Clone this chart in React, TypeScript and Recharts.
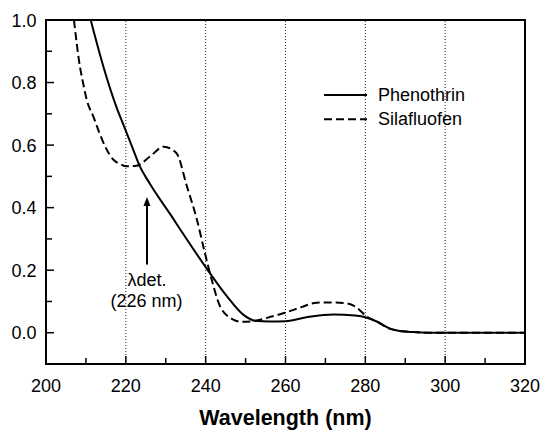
import React from 'react';
import { LineChart, Line, XAxis, YAxis, ReferenceLine, Legend } from 'recharts';

const FONT = '"Liberation Sans", Arial, Helvetica, sans-serif';

// Phenothrin (solid)
const phenothrinWl = [211.2, 214.4, 217.7, 219.4, 221.7, 223.4, 226.1, 231.5, 235.3, 241.1, 245.3, 249.4, 252.5, 256, 260, 266, 272, 277.4, 280.4, 283, 286.2, 288, 292, 296, 320];
const phenothrinAbs = [1.0, 0.85, 0.72, 0.665, 0.59, 0.535, 0.475, 0.372, 0.298, 0.19, 0.117, 0.058, 0.038, 0.036, 0.037, 0.051, 0.058, 0.055, 0.048, 0.035, 0.013, 0.007, 0.002, 0.0, 0.0];

// Silafluofen (dashed)
const silafluofenWl = [207, 208.5, 209.3, 210.2, 211.9, 213.5, 214.8, 216.9, 218.5, 220.2, 222.7, 226.1, 229.5, 232.7, 235.3, 237.8, 239.8, 241.5, 243.6, 246.9, 249, 252, 256, 259.9, 264, 267.8, 272, 275.4, 277.9, 280.4, 283, 286, 288, 292, 296, 320];
const silafluofenAbs = [1.0, 0.851, 0.798, 0.745, 0.69, 0.635, 0.596, 0.553, 0.54, 0.532, 0.534, 0.564, 0.595, 0.574, 0.468, 0.362, 0.255, 0.17, 0.085, 0.042, 0.035, 0.037, 0.05, 0.064, 0.082, 0.096, 0.097, 0.094, 0.08, 0.051, 0.035, 0.013, 0.007, 0.002, 0.0, 0.0];

const xDomain = [200, 320];
const yDomain = [-0.1, 1.0];
const xTicks = [200, 210, 220, 230, 240, 250, 260, 270, 280, 290, 300, 310, 320];
const yTicks = [0, 0.1, 0.2, 0.3, 0.4, 0.5, 0.6, 0.7, 0.8, 0.9, 1.0];
const gridX = [220, 240, 260, 280, 300];

const seriesNames = ['Phenothrin', 'Silafluofen'];
const seriesDash = ['', '8 4'];

const annotationX = 225.3;
const annotationY = [0.218, 0.434];
const annotationText = ['\u03BBdet.', '(226 nm)'];

const CHART_W = 542;
const CHART_H = 430;
const MARGIN = { top: 20, right: 17, bottom: 0, left: 0 };
const Y_AXIS_W = 46;
const X_AXIS_H = 66;

const phenothrinData = phenothrinWl.map((w, i) => ({ w, v: phenothrinAbs[i] }));
const silafluofenData = silafluofenWl.map((w, i) => ({ w, v: silafluofenAbs[i] }));

const XTick = (props: any) => {
  const { x, y, payload } = props;
  const v = payload.value;
  const major = Math.round(v) % 20 === 0;
  return (
    <g>
      <line x1={x} x2={x} y1={y} y2={y - (major ? 8 : 6)} stroke="#000" strokeWidth={1.5} />
      {major && (
        <text x={x} y={y + 28} textAnchor="middle" fontSize={18} fontFamily={FONT} fill="#000">
          {v}
        </text>
      )}
    </g>
  );
};

const YTick = (props: any) => {
  const { x, y, payload } = props;
  const v = payload.value;
  const major = Math.round(v * 10) % 2 === 0;
  return (
    <g>
      <line x1={x} x2={x + (major ? 8 : 6)} y1={y} y2={y} stroke="#000" strokeWidth={1.5} />
      {major && (
        <text x={x - 9.5} y={y + 6.5} textAnchor="end" fontSize={18} fontFamily={FONT} fill="#000">
          {v.toFixed(1)}
        </text>
      )}
    </g>
  );
};

const XLabel = (props: any) => {
  const vb = props.viewBox || {};
  return (
    <text x={vb.x + vb.width / 2} y={vb.y + 61} textAnchor="middle" fontSize={21.5} fontWeight="bold" fontFamily={FONT} fill="#000">
      Wavelength (nm)
    </text>
  );
};

const ArrowShape = (p: any) => {
  const x = p.x1;
  const top = Math.min(p.y1, p.y2);
  const bot = Math.max(p.y1, p.y2);
  return (
    <g>
      <line x1={x} x2={x} y1={bot} y2={top + 6} stroke="#000" strokeWidth={2} />
      <polygon points={`${x},${top} ${x - 3.5},${top + 9} ${x + 3.5},${top + 9}`} fill="#000" />
      <text x={x} y={bot + 21} textAnchor="middle" fontSize={18} fontFamily={FONT} fill="#000">
        {annotationText[0]}
      </text>
      <text x={x - 0.5} y={bot + 42} textAnchor="middle" fontSize={18} fontFamily={FONT} fill="#000">
        {annotationText[1]}
      </text>
    </g>
  );
};

const LegendContent = () => (
  <svg width={200} height={55} style={{ display: 'block', overflow: 'visible' }}>
    {seriesNames.map((name, i) => (
      <g key={name}>
        <line x1={4} x2={47} y1={15 + i * 24.3} y2={15 + i * 24.3} stroke="#000" strokeWidth={2} strokeDasharray={seriesDash[i] || undefined} />
        <text x={58} y={21 + i * 24.3} fontSize={18} fontFamily={FONT} fill="#000">
          {name}
        </text>
      </g>
    ))}
  </svg>
);

export default function App() {
  // plot-area frame, derived from the same margins / axis sizes given to the chart
  const plotLeft = MARGIN.left + Y_AXIS_W;
  const plotTop = MARGIN.top;
  const plotRight = CHART_W - MARGIN.right;
  const plotBottom = CHART_H - MARGIN.bottom - X_AXIS_H;
  return (
    <div style={{ position: 'absolute', left: 0, top: 0, width: CHART_W, height: CHART_H, background: '#fff' }}>
      <LineChart width={CHART_W} height={CHART_H} margin={MARGIN}>
        <XAxis
          dataKey="w"
          type="number"
          domain={xDomain}
          ticks={xTicks}
          allowDataOverflow
          interval={0}
          height={X_AXIS_H}
          tickSize={0}
          tickMargin={0}
          tickLine={false}
          tick={<XTick />}
          axisLine={{ stroke: '#000', strokeWidth: 2 }}
          label={<XLabel />}
        />
        <YAxis
          type="number"
          domain={yDomain}
          ticks={yTicks}
          allowDataOverflow
          interval={0}
          width={Y_AXIS_W}
          tickSize={0}
          tickMargin={0}
          tickLine={false}
          tick={<YTick />}
          axisLine={{ stroke: '#000', strokeWidth: 2 }}
        />
        {gridX.map((g) => (
          <ReferenceLine key={g} x={g} stroke="#222" strokeWidth={1} strokeDasharray="1 2" />
        ))}
        <Line
          data={phenothrinData}
          dataKey="v"
          name={seriesNames[0]}
          type="monotone"
          stroke="#000"
          strokeWidth={2}
          dot={false}
          activeDot={false}
          isAnimationActive={false}
        />
        <Line
          data={silafluofenData}
          dataKey="v"
          name={seriesNames[1]}
          type="monotone"
          stroke="#000"
          strokeWidth={2}
          strokeDasharray={seriesDash[1]}
          dot={false}
          activeDot={false}
          isAnimationActive={false}
        />
        <Legend
          layout="vertical"
          align="center"
          verticalAlign="middle"
          content={<LegendContent />}
          wrapperStyle={{ left: 320, top: 80, width: 200, height: 55 }}
        />
        <ReferenceLine
          segment={[{ x: annotationX, y: annotationY[0] }, { x: annotationX, y: annotationY[1] }]}
          shape={<ArrowShape />}
        />
      </LineChart>
      <div
        style={{
          position: 'absolute',
          left: plotLeft - 1,
          top: plotTop - 1,
          width: plotRight - plotLeft + 2,
          height: plotBottom - plotTop + 2,
          border: '2px solid #000',
          boxSizing: 'border-box',
          pointerEvents: 'none',
        }}
      />
    </div>
  );
}
